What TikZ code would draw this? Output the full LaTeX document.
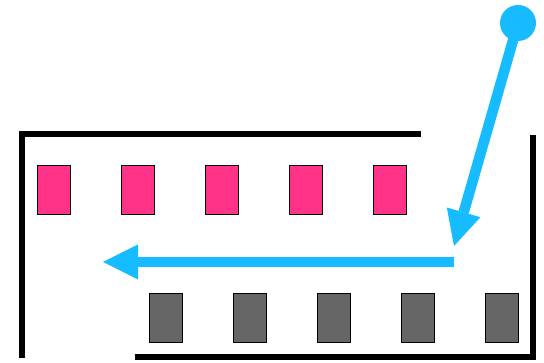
\documentclass[tikz,border=0pt]{standalone}
\usetikzlibrary{arrows.meta}
\definecolor{pinkfill}{RGB}{255,51,136}
\definecolor{grayfill}{RGB}{102,102,102}
\definecolor{skyblue}{RGB}{23,187,255}
\begin{document}
\begin{tikzpicture}[x=1pt,y=-1pt,
  pinkbox/.style={draw=black,line width=1pt,fill=pinkfill,minimum width=33pt,minimum height=49pt,inner sep=0pt},
  graybox/.style={draw=black,line width=1pt,fill=grayfill,minimum width=33pt,minimum height=49pt,inner sep=0pt},
  wall/.style={draw=black,line width=6.5pt,line join=miter},
  flow/.style={draw=skyblue,line width=10.5pt,-{Triangle[length=35pt,width=35pt,line width=0pt]}}]
\useasboundingbox (0,0) rectangle (544,363);
% walls
\coordinate (w1a) at (421,134);
\coordinate (w1b) at (22,134);
\coordinate (w1c) at (22,358);
\coordinate (w2a) at (533,135);
\coordinate (w2b) at (533,357);
\coordinate (w2c) at (135,357);
\draw[wall] (w1a) -- (w1b) -- (w1c);
\draw[wall] (w2a) -- (w2b) -- (w2c);
% pink boxes
\foreach \i/\x in {1/54,2/138,3/222,4/306,5/390}
  \node[pinkbox] (p\i) at (\x,190.5) {};
% gray boxes
\foreach \i/\x in {1/166,2/250,3/334,4/418,5/502}
  \node[graybox] (g\i) at (\x,318.5) {};
% blue flow
\node[circle,fill=skyblue,minimum size=36pt,inner sep=0pt] (start) at (518,23) {};
\coordinate (turn) at (454,246);
\coordinate (hstart) at (454,262);
\coordinate (hend) at (103,262);
\draw[flow] (start.center) -- (turn);
\draw[flow] (hstart) -- (hend);
\end{tikzpicture}
\end{document}
